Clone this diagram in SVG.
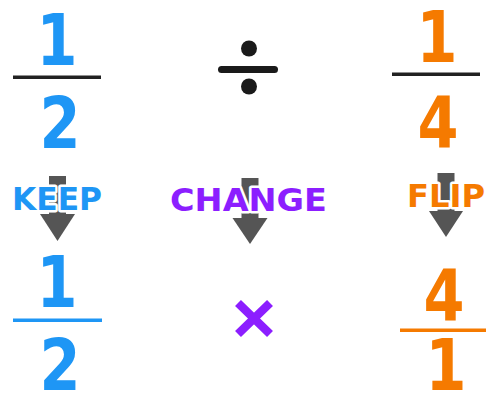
<svg xmlns="http://www.w3.org/2000/svg" width="486" height="396" viewBox="0 0 486 396">
<style>
.num{font-family:"DejaVu Sans","Liberation Sans",sans-serif;font-weight:bold;font-size:71px;text-anchor:middle}
.lbl{font-family:"DejaVu Sans","Liberation Sans",sans-serif;font-weight:bold;font-size:32px;stroke:#fff;stroke-width:5;paint-order:stroke;stroke-linejoin:round}
.blue{fill:#1E96F5}
.purple{fill:#8C1EFF}
.orange{fill:#F57A00}
.shaft{stroke:#555;stroke-width:17}
.head{fill:#555}
</style>
<rect width="486" height="396" fill="#fff"/>
<g id="connectors">
  <line class="shaft" x1="57.5" y1="176" x2="57.5" y2="216"/>
  <polygon class="head" points="40,214 75,214 57.5,241"/>
  <line class="shaft" x1="250" y1="178" x2="250" y2="220"/>
  <polygon class="head" points="232.5,218 267.5,218 250,244"/>
  <line class="shaft" x1="446" y1="173" x2="446" y2="213"/>
  <polygon class="head" points="429,211 463,211 446,237"/>
</g>
<g id="keep-top">
  <text class="num blue" x="57" y="65" textLength="41" lengthAdjust="spacingAndGlyphs">1</text>
  <rect x="13" y="75.5" width="88" height="3.5" fill="#222"/>
  <text class="num blue" x="60" y="148" textLength="41" lengthAdjust="spacingAndGlyphs">2</text>
</g>
<g id="divide">
  <circle cx="249" cy="48.5" r="8" fill="#1a1a1a"/>
  <rect x="218" y="66" width="60" height="7" rx="3.5" fill="#1a1a1a"/>
  <circle cx="249" cy="86.5" r="8" fill="#1a1a1a"/>
</g>
<g id="flip-top">
  <text class="num orange" x="437" y="62" textLength="41" lengthAdjust="spacingAndGlyphs">1</text>
  <rect x="392" y="72.5" width="88" height="3.5" fill="#222"/>
  <text class="num orange" x="438" y="147" textLength="41" lengthAdjust="spacingAndGlyphs">4</text>
</g>
<g id="label-keep">
  <text class="lbl blue" x="12" y="210" textLength="90" lengthAdjust="spacingAndGlyphs">KEEP</text>
</g>
<g id="label-change">
  <text class="lbl purple" x="170" y="211" textLength="157" lengthAdjust="spacingAndGlyphs">CHANGE</text>
</g>
<g id="label-flip">
  <text class="lbl orange" x="407" y="207" textLength="78" lengthAdjust="spacingAndGlyphs">FLIP</text>
</g>
<g id="keep-bottom">
  <text class="num blue" x="57" y="307" textLength="41" lengthAdjust="spacingAndGlyphs">1</text>
  <rect x="13" y="318.5" width="89" height="3.5" class="blue"/>
  <text class="num blue" x="60" y="390" textLength="41" lengthAdjust="spacingAndGlyphs">2</text>
</g>
<g id="times">
  <path d="M238,303 L270,334 M270,303 L238,334" stroke="#8C1EFF" stroke-width="8.5" fill="none"/>
</g>
<g id="flip-bottom">
  <text class="num orange" x="444" y="320" textLength="41" lengthAdjust="spacingAndGlyphs">4</text>
  <rect x="400" y="328.5" width="86" height="3.5" class="orange"/>
  <text class="num orange" x="446" y="390" textLength="41" lengthAdjust="spacingAndGlyphs">1</text>
</g>
</svg>
